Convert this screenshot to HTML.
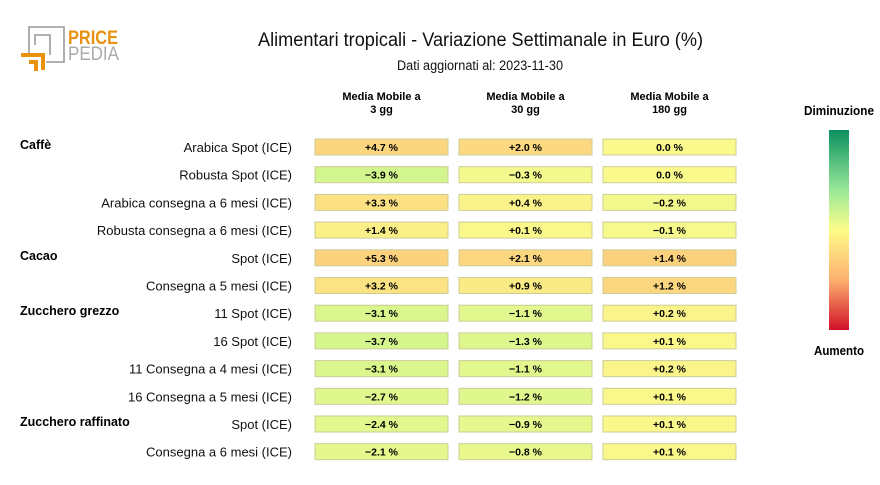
<!DOCTYPE html>
<html><head><meta charset="utf-8"><style>
body{margin:0;width:880px;height:480px;background:#fff;font-family:"Liberation Sans",sans-serif;overflow:hidden}
svg text{font-family:"Liberation Sans",sans-serif}
</style></head><body>
<svg id="c" width="880" height="480" xmlns="http://www.w3.org/2000/svg">
<defs><linearGradient id="lg" x1="0" y1="0" x2="0" y2="1">
<stop offset="0" stop-color="#0a9060"/><stop offset="0.3" stop-color="#98e898"/><stop offset="0.5" stop-color="#fdfd88"/><stop offset="0.75" stop-color="#fdb070"/><stop offset="1" stop-color="#d01028"/></linearGradient></defs>
<g>
<path d="M29 53 V27 H64 V62 H46" fill="none" stroke="#999" stroke-width="1.6"/>
<path d="M35 45 V35 H50 V55" fill="none" stroke="#999" stroke-width="1.6"/>
<path d="M21 55 H43 V70" fill="none" stroke="#e8920f" stroke-width="4"/>
<path d="M29 62 H36 V71" fill="none" stroke="#e8920f" stroke-width="4"/>
<text x="68" y="44" font-size="19" font-weight="bold" fill="#e8920f" textLength="50" lengthAdjust="spacingAndGlyphs">PRICE</text>
<text x="68" y="60" font-size="19" fill="#aaa" textLength="51" lengthAdjust="spacingAndGlyphs">PEDIA</text>
</g>
<text x="258" y="46" font-size="19" fill="#111" textLength="445" lengthAdjust="spacingAndGlyphs">Alimentari tropicali - Variazione Settimanale in Euro (%)</text>
<text x="397" y="70" font-size="13.5" fill="#111" textLength="166" lengthAdjust="spacingAndGlyphs">Dati aggiornati al: 2023-11-30</text>
<text x="804" y="115" font-size="13" font-weight="bold" textLength="70" lengthAdjust="spacingAndGlyphs">Diminuzione</text>
<rect x="829" y="130" width="20" height="200" fill="url(#lg)"/>
<text x="814" y="355" font-size="13" font-weight="bold" textLength="50" lengthAdjust="spacingAndGlyphs">Aumento</text>
<g id="g"></g>
</svg>
<script>
const columns=["Media Mobile a|3 gg","Media Mobile a|30 gg","Media Mobile a|180 gg"];
const groups=["Caffè","","","","Cacao","","Zucchero grezzo","","","","Zucchero raffinato",""];
const rows=["Arabica Spot (ICE)","Robusta Spot (ICE)","Arabica consegna a 6 mesi (ICE)","Robusta consegna a 6 mesi (ICE)","Spot (ICE)","Consegna a 5 mesi (ICE)","11 Spot (ICE)","16 Spot (ICE)","11 Consegna a 4 mesi (ICE)","16 Consegna a 5 mesi (ICE)","Spot (ICE)","Consegna a 6 mesi (ICE)"];
const ma3=[4.7,-3.9,3.3,1.4,5.3,3.2,-3.1,-3.7,-3.1,-2.7,-2.4,-2.1];
const ma30=[2.0,-0.3,0.4,0.1,2.1,0.9,-1.1,-1.3,-1.1,-1.2,-0.9,-0.8];
const ma180=[0.0,0.0,-0.2,-0.1,1.4,1.2,0.2,0.1,0.2,0.1,0.1,0.1];
const series=[ma3,ma30,ma180];
const scales=[10,4.5,2.6];
const NS="http://www.w3.org/2000/svg";
const g=document.getElementById('g');
const colX=[315,459,603],cw=133,ch=16,y0=147,dy=27.7;
function rowY(i){return y0+i*dy;}
function lerp(a,b,t){return a.map((v,k)=>Math.round(v+(b[k]-v)*t));}
function color(t){
 t=Math.max(-1,Math.min(1,t));
 const st=[[-1,[150,230,150]],[-0.5,[200,244,142]],[0,[250,250,140]],[1,[254,174,112]]];
 for(let k=0;k<st.length-1;k++){if(t<=st[k+1][0]){const f=(t-st[k][0])/(st[k+1][0]-st[k][0]);return 'rgb('+lerp(st[k][1],st[k+1][1],f).join(',')+')';}}
 return 'rgb(254,174,112)';}
function mk(tag,attrs,txt){const e=document.createElementNS(NS,tag);for(const k in attrs)e.setAttribute(k,attrs[k]);if(txt!==undefined)e.textContent=txt;g.appendChild(e);return e;}
columns.forEach((c,j)=>{const p=c.split('|');
 const t=mk('text',{x:colX[j]+cw/2,y:100,'font-size':11,'font-weight':'bold','text-anchor':'middle'});
 
 
 p.forEach((s,k)=>{const ts=document.createElementNS(NS,'tspan');ts.setAttribute('x',colX[j]+cw/2);ts.setAttribute('dy',k?13:0);ts.textContent=s;t.appendChild(ts);});});
rows.forEach((r,i)=>{const y=rowY(i);
 if(groups[i]){const gt=mk('text',{x:20,y:y+2,'font-size':12.5,'font-weight':'bold'},groups[i]);
  
  }
 const rt=mk('text',{x:292,y:y+5,'font-size':13,'text-anchor':'end',fill:'#111'},r);
 
 
 series.forEach((s,j)=>{const v=s[i];
  const rc=mk('rect',{x:colX[j],y:y-ch/2,width:cw,height:ch,fill:color(v/scales[j]),stroke:'#cccc99','stroke-width':1});
  
  
  const lab=(v>0?'+':v<0?'−':'')+Math.abs(v).toFixed(1)+' %';
  const vt=mk('text',{x:colX[j]+cw/2,y:y+4,'font-size':10.5,'font-weight':'bold','text-anchor':'middle'},lab);
  
  });});
</script>
</body></html>
